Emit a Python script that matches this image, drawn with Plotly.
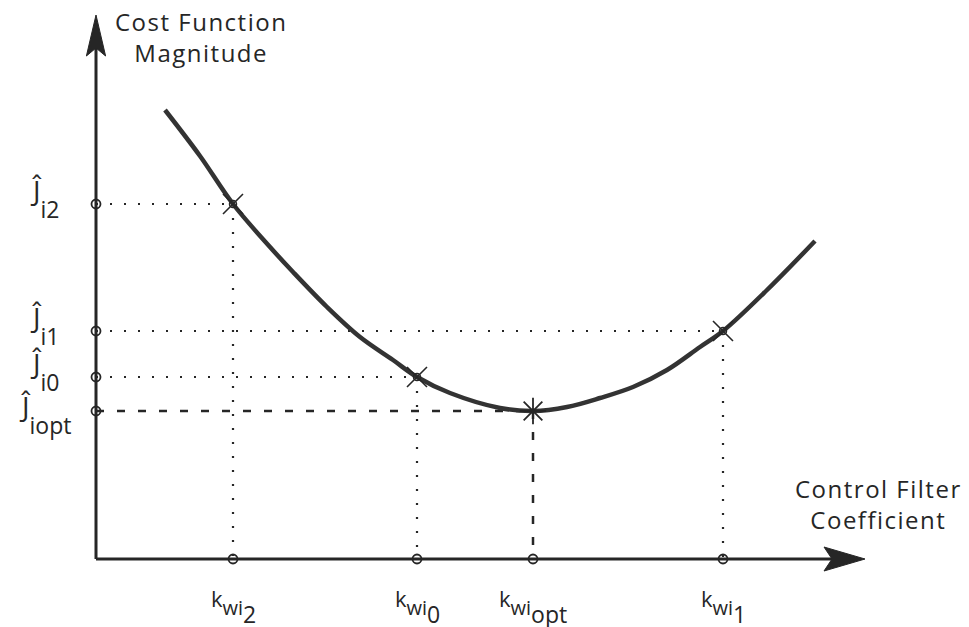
import plotly.graph_objects as go

# Cost function curve (control filter coefficient vs. cost magnitude)
curve_k = [0.69, 1.04, 1.37, 1.74, 1.97, 2.31, 2.64, 2.97, 3.21, 3.54,
           4.04, 4.37, 4.71, 5.04, 5.37, 5.71, 6.04, 6.27, 6.71, 7.19]
curve_j = [4.49, 4.03, 3.55, 3.12, 2.87, 2.52, 2.22, 1.99, 1.82, 1.66,
           1.51, 1.48, 1.52, 1.61, 1.72, 1.89, 2.12, 2.28, 2.69, 3.18]

# Marked iterates: coefficient and corresponding cost
point_names = ["2", "0", "opt", "1"]
point_k = [1.37, 3.21, 4.37, 6.27]
point_j = [3.55, 1.82, 1.48, 2.28]

x_label = "Control Filter<br>Coefficient"
y_label = "Cost Function<br>Magnitude"

# axis extents (arrow tips)
x_axis_end = 7.69
y_axis_end = 5.44
head_len = 0.41
head_half = 0.12
notch = 0.08

INK = "#262626"
FONT = "Open Sans"

fig = go.Figure()

# guide lines: dotted for iterates, dashed for the optimum
for name, k, j in zip(point_names, point_k, point_j):
    dash = "8px,13px" if name == "opt" else "2px,12px"
    width = 2.5 if name == "opt" else 2.2
    fig.add_trace(go.Scatter(
        x=[0, k, None, k, k], y=[j, j, None, j, 0],
        mode="lines", line=dict(color=INK, width=width, dash=dash),
        hoverinfo="skip", showlegend=False))

# axes lines
fig.add_trace(go.Scatter(
    x=[0, x_axis_end - head_len + notch], y=[0, 0], mode="lines",
    line=dict(color=INK, width=3), showlegend=False, hoverinfo="skip"))
fig.add_trace(go.Scatter(
    x=[0, 0], y=[0, y_axis_end - head_len + notch], mode="lines",
    line=dict(color=INK, width=3), showlegend=False, hoverinfo="skip"))

# the cost curve
fig.add_trace(go.Scatter(
    x=curve_k, y=curve_j, mode="lines", line=dict(color="#333333", width=4.5, shape="spline"),
    showlegend=False, hoverinfo="skip"))

# tick circles on both axes
fig.add_trace(go.Scatter(
    x=point_k + [0] * len(point_j), y=[0] * len(point_k) + point_j, mode="markers",
    marker=dict(symbol="circle-open", size=9, color=INK, line=dict(width=1.8)),
    showlegend=False, hoverinfo="skip"))

# iterate markers on the curve
it_k = [k for n, k in zip(point_names, point_k) if n != "opt"]
it_j = [j for n, j in zip(point_names, point_j) if n != "opt"]
fig.add_trace(go.Scatter(
    x=it_k, y=it_j, mode="markers",
    marker=dict(symbol="x-thin-open", size=20, color=INK, line=dict(width=1.6)),
    showlegend=False, hoverinfo="skip"))
fig.add_trace(go.Scatter(
    x=it_k, y=it_j, mode="markers",
    marker=dict(symbol="circle-open", size=7, color=INK, line=dict(width=1.5)),
    showlegend=False, hoverinfo="skip"))
opt_i = point_names.index("opt")
fig.add_trace(go.Scatter(
    x=[point_k[opt_i]], y=[point_j[opt_i]], mode="markers",
    marker=dict(symbol="asterisk-open", size=22, color=INK, line=dict(width=1.8)),
    showlegend=False, hoverinfo="skip"))

# arrow heads at the axis ends
xh = x_axis_end
yh = y_axis_end
fig.add_shape(type="path", xref="x", yref="y",
              path=(f"M{xh},0 L{xh - head_len},{head_half} L{xh - head_len + notch},0 "
                    f"L{xh - head_len},{-head_half} Z"),
              fillcolor=INK, line=dict(color=INK, width=1))
fig.add_shape(type="path", xref="x", yref="y",
              path=(f"M0,{yh} L{head_half * 0.8},{yh - head_len} L0,{yh - head_len + notch} "
                    f"L{-head_half * 0.8},{yh - head_len} Z"),
              fillcolor=INK, line=dict(color=INK, width=1))


def lowered(text, size, drop):
    # subscript drawn at an explicit size, dropped by roughly `drop` px
    carrier = drop / 0.21
    return (f"<span style='font-size:{carrier:.0f}px'><sub>"
            f"<span style='font-size:{size}px'>{text}</span></sub></span>")


def spaced(text):
    return "<br>".join(f"<span style='letter-spacing:1.5px'>{line}</span>"
                       for line in text.split("<br>"))


# tick labels on the coefficient axis
for name, k in zip(point_names, point_k):
    inner = "wi" + lowered(name, 23, 8)
    fig.add_annotation(
        x=k, y=-0.47, xref="x", yref="y", showarrow=False,
        text="k" + lowered(inner, 20, 8),
        font=dict(family=FONT, size=22, color=INK), xanchor="center", yanchor="middle")

# tick labels on the cost axis
for name, j in zip(point_names, point_j):
    fig.add_annotation(
        x=-0.51, y=j, xref="x", yref="y", showarrow=False,
        yshift=-3 if name == "opt" else 6,
        text="Ĵ" + lowered("i" + name, 23, 17),
        font=dict(family=FONT, size=28, color=INK), xanchor="center", yanchor="middle")

# axis titles
fig.add_annotation(x=1.05, y=5.22, xref="x", yref="y", showarrow=False, text=spaced(y_label),
                   font=dict(family=FONT, size=24, color=INK), align="center")
fig.add_annotation(x=7.82, y=0.55, xref="x", yref="y", showarrow=False, text=spaced(x_label),
                   font=dict(family=FONT, size=24, color=INK), align="center")

fig.update_layout(
    width=969, height=627, margin=dict(l=0, r=0, t=0, b=0),
    paper_bgcolor="white", plot_bgcolor="white",
    xaxis=dict(range=[-0.96, 8.73], visible=False, fixedrange=True),
    yaxis=dict(range=[-0.68, 5.59], visible=False, fixedrange=True),
    showlegend=False)

fig.write_html("out.html")
